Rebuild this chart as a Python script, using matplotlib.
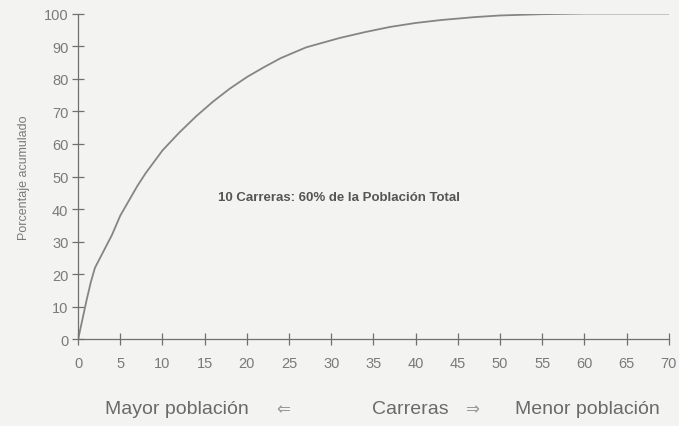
import matplotlib
matplotlib.use("Agg")
import matplotlib.pyplot as plt

plt.rcParams['font.family'] = ['Liberation Sans', 'DejaVu Sans']

# cumulative percentage of population vs. number of careers
carreras = [0, 0.5, 1, 1.5, 2, 3, 4, 5, 6, 7, 8, 9, 10, 12, 14, 16, 18, 20,
            22, 24, 27, 31, 34, 37, 40, 43, 47, 50, 55, 60, 70]
porcentaje = [0, 6, 12, 17.5, 22, 27, 32, 38, 42.5, 47, 51, 54.5, 58, 63.5, 68.5,
              73, 77, 80.5, 83.5, 86.3, 89.6, 92.5, 94.3, 95.9, 97.1, 98,
              98.9, 99.4, 99.8, 100, 100]

x_ticks = list(range(0, 71, 5))
y_ticks = list(range(0, 101, 10))

bg = '#f3f3f1'
grey = '#707070'

fig = plt.figure(figsize=(6.79, 4.27), dpi=100, facecolor=bg)
ax = fig.add_axes([0.115, 0.2026, 0.87, 0.7634], facecolor=bg)

ax.plot(carreras, porcentaje, color='#858585', lw=1.3)

ax.set_xlim(0, 70)
ax.set_ylim(0, 100)
ax.set_xticks(x_ticks)
ax.set_yticks(y_ticks)
ax.tick_params(direction='inout', length=8, width=0.9, colors=grey,
               labelsize=10.5, labelcolor='#7a7a7a')
ax.tick_params(axis='x', pad=8)
ax.tick_params(axis='y', pad=3)
for side in ('top', 'right'):
    ax.spines[side].set_visible(False)
for side in ('left', 'bottom'):
    ax.spines[side].set_color(grey)
    ax.spines[side].set_linewidth(0.9)

ax.set_ylabel('Porcentaje acumulado', fontsize=9, color='#7a7a7a', labelpad=10)

ax.text(16.6, 43.7, '10 Carreras: 60% de la Población Total', fontsize=9.5,
        fontweight='bold', color='#555555', va='center', ha='left')

fig.text(0.155, 0.04, 'Mayor población', fontsize=14, color='#6a6a6a', va='center', ha='left')
fig.text(0.417, 0.04, '⇐', fontsize=12, color='#999999', va='center', ha='center')
fig.text(0.605, 0.04, 'Carreras', fontsize=14, color='#6a6a6a', va='center', ha='center')
fig.text(0.695, 0.04, '⇒', fontsize=12, color='#999999', va='center', ha='center')
fig.text(0.758, 0.04, 'Menor población', fontsize=14, color='#6a6a6a', va='center', ha='left')

fig.savefig('out.png', dpi=100, facecolor=bg)
